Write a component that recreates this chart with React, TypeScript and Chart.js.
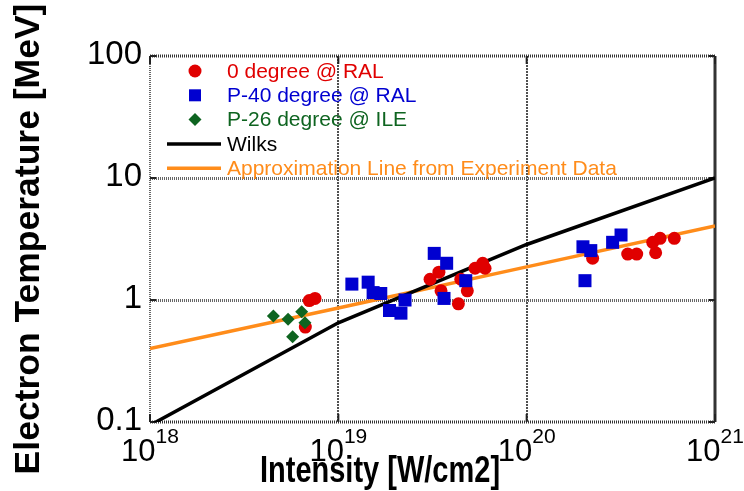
import React, { useEffect, useRef } from 'react';
import { Chart, registerables } from 'chart.js';

Chart.register(...registerables);

// ---- Data ----
const xTickExponents = [18, 19, 20, 21];
const yTickValues = [0.1, 1, 10, 100];
const yTickLabels = ['0.1', '1', '10', '100'];

const ral0Intensity = [7.01e18, 7.52e18, 6.68e18, 3.07e19, 3.42e19, 3.51e19, 4.34e19, 4.47e19, 4.84e19, 5.32e19, 5.84e19, 6.01e19, 2.24e20, 3.44e20, 3.84e20, 4.67e20, 5.11e20, 4.84e20, 6.08e20];
const ral0Temp = [0.99, 1.03, 0.6, 1.48, 1.69, 1.19, 0.93, 1.48, 1.19, 1.82, 2.0, 1.82, 2.2, 2.38, 2.38, 2.97, 3.2, 2.44, 3.2];

const ral40Intensity = [1.18e19, 1.44e19, 1.53e19, 1.68e19, 2.26e19, 1.87e19, 2.15e19, 3.23e19, 3.76e19, 3.64e19, 4.75e19, 1.99e20, 2.19e20, 2.04e20, 2.86e20, 3.17e20];
const ral40Temp = [1.35, 1.4, 1.15, 1.13, 1.0, 0.82, 0.78, 2.41, 2.0, 1.03, 1.44, 2.73, 2.54, 1.44, 2.97, 3.41];

const ile26Intensity = [4.52e18, 5.41e18, 6.39e18, 6.65e18, 5.72e18];
const ile26Temp = [0.74, 0.695, 0.8, 0.65, 0.5];

const wilksIntensity = [1e18, 1e19, 1e20, 1e21];
const wilksTemp = [0.094, 0.65, 2.85, 10];

const approxIntensity = [1e18, 1e19, 1e20, 1e21];
const approxTemp = [0.4, 0.86, 1.87, 4.04];

const seriesLabels = ['0 degree @ RAL', 'P-40 degree @ RAL', 'P-26 degree @ ILE', 'Wilks', 'Approximation Line from Experiment Data'];
const seriesColors = ['#e00000', '#0000d0', '#0e6420', '#000000', '#ff8c1a'];

const xTitle = 'Intensity [W/cm2]';
const yTitle = 'Electron Temperature [MeV]';

const FONT = "Arial, 'Liberation Sans', sans-serif";

const zip = (xs: number[], ys: number[]) => xs.map((x, i) => ({ x, y: ys[i] }));

const overlayPlugin = {
  id: 'overlay',
  beforeDatasetsDraw(chart: any) {
    const { ctx, chartArea: a, scales } = chart;
    const x = scales.x;
    const y = scales.y;
    ctx.save();
    // frame
    ctx.setLineDash([1, 1]);
    ctx.lineWidth = 2;
    ctx.strokeStyle = '#666';
    ctx.beginPath();
    ctx.moveTo(a.left, a.top);
    ctx.lineTo(a.left, a.bottom);
    ctx.stroke();
    ctx.lineWidth = 3;
    ctx.strokeStyle = '#333';
    ctx.beginPath();
    ctx.moveTo(a.left, a.top);
    ctx.lineTo(a.right, a.top);
    ctx.moveTo(a.left, a.bottom);
    ctx.lineTo(a.right, a.bottom);
    ctx.stroke();
    ctx.setLineDash([]);
    ctx.beginPath();
    ctx.moveTo(a.right, a.top);
    ctx.lineTo(a.right, a.bottom);
    ctx.stroke();
    // inward ticks
    ctx.lineWidth = 2;
    ctx.strokeStyle = '#222';
    ctx.beginPath();
    xTickExponents.forEach((e) => {
      const px = x.getPixelForValue(Math.pow(10, e));
      ctx.moveTo(px, a.top);
      ctx.lineTo(px, a.top + 8);
      ctx.moveTo(px, a.bottom);
      ctx.lineTo(px, a.bottom - 8);
    });
    yTickValues.forEach((v) => {
      const py = y.getPixelForValue(v);
      ctx.moveTo(a.left, py);
      ctx.lineTo(a.left + 6, py);
      ctx.moveTo(a.right, py);
      ctx.lineTo(a.right - 6, py);
    });
    ctx.stroke();
    ctx.restore();
  },
  afterDraw(chart: any) {
    const { ctx, chartArea: a, scales } = chart;
    const x = scales.x;
    const y = scales.y;
    ctx.save();
    ctx.fillStyle = '#000';
    // y tick labels
    ctx.font = `33px ${FONT}`;
    ctx.textAlign = 'right';
    ctx.textBaseline = 'alphabetic';
    yTickValues.forEach((v, i) => {
      ctx.fillText(yTickLabels[i], a.left - 8, y.getPixelForValue(v) + 8);
    });
    // x tick labels (10 with superscript exponent)
    xTickExponents.forEach((e) => {
      const px = x.getPixelForValue(Math.pow(10, e));
      ctx.font = `31px ${FONT}`;
      const bw = ctx.measureText('10').width;
      ctx.font = `21px ${FONT}`;
      const ew = ctx.measureText(String(e)).width;
      const start = px - (bw + ew) / 2;
      ctx.textAlign = 'left';
      ctx.font = `31px ${FONT}`;
      ctx.fillText('10', start, a.bottom + 39);
      ctx.font = `21px ${FONT}`;
      ctx.fillText(String(e), start + bw, a.bottom + 21);
    });
    // x title
    ctx.save();
    ctx.font = `bold 29px ${FONT}`;
    ctx.textAlign = 'center';
    ctx.translate(380, 482);
    ctx.scale(1, 1.25);
    ctx.fillText(xTitle, 0, 0);
    ctx.restore();
    // y title
    ctx.save();
    ctx.font = `bold 35.5px ${FONT}`;
    ctx.textAlign = 'center';
    ctx.textBaseline = 'middle';
    ctx.translate(29, (a.top + a.bottom) / 2);
    ctx.rotate(-Math.PI / 2);
    ctx.fillText(yTitle, 0, 0);
    ctx.restore();
    // legend
    const rowStart = a.top + 15;
    const rowStep = 24.3;
    chart.data.datasets.forEach((ds: any, i: number) => {
      const cy = rowStart + i * rowStep;
      const mx = a.left + 45;
      ctx.fillStyle = ds.borderColor;
      ctx.strokeStyle = ds.borderColor;
      if (ds.showLine) {
        ctx.lineWidth = 3.5;
        ctx.beginPath();
        ctx.moveTo(a.left + 17, cy);
        ctx.lineTo(a.left + 71, cy);
        ctx.stroke();
      } else if (ds.pointStyle === 'circle') {
        ctx.beginPath();
        ctx.arc(mx, cy, 6.5, 0, Math.PI * 2);
        ctx.fill();
      } else if (ds.pointStyle === 'rect') {
        ctx.fillRect(mx - 6, cy - 6, 12, 12);
      } else {
        ctx.beginPath();
        ctx.moveTo(mx, cy - 6.5);
        ctx.lineTo(mx + 6.5, cy);
        ctx.lineTo(mx, cy + 6.5);
        ctx.lineTo(mx - 6.5, cy);
        ctx.closePath();
        ctx.fill();
      }
      ctx.font = `21px ${FONT}`;
      ctx.textAlign = 'left';
      ctx.textBaseline = 'middle';
      ctx.fillText(ds.label, a.left + 77, cy + 1);
    });
    ctx.restore();
  },
};

export default function App() {
  const ref = useRef<HTMLCanvasElement>(null);
  useEffect(() => {
    document.body.style.margin = '0';
    const pointSet = (i: number, style: string, r: number, xs: number[], ys: number[], order: number) => ({
      label: seriesLabels[i],
      data: zip(xs, ys),
      pointStyle: style,
      pointRadius: r,
      backgroundColor: seriesColors[i],
      borderColor: seriesColors[i],
      borderWidth: 0,
      showLine: false,
      order,
    });
    const lineSet = (i: number, xs: number[], ys: number[], order: number) => ({
      label: seriesLabels[i],
      data: zip(xs, ys),
      borderColor: seriesColors[i],
      backgroundColor: seriesColors[i],
      borderWidth: 3.5,
      pointRadius: 0,
      showLine: true,
      fill: false,
      tension: 0,
      order,
    });
    const chart = new Chart(ref.current as HTMLCanvasElement, {
      type: 'scatter',
      data: {
        datasets: [
          pointSet(0, 'circle', 6.5, ral0Intensity, ral0Temp, 3),
          pointSet(1, 'rect', 9.2, ral40Intensity, ral40Temp, 2),
          pointSet(2, 'rectRot', 6.5, ile26Intensity, ile26Temp, 1),
          lineSet(3, wilksIntensity, wilksTemp, 4),
          lineSet(4, approxIntensity, approxTemp, 5),
        ] as any,
      },
      options: {
        responsive: false,
        animation: false,
        layout: { padding: { left: 150, top: 56, right: 29, bottom: 69 } },
        plugins: { legend: { display: false }, tooltip: { enabled: false } },
        scales: {
          x: {
            type: 'logarithmic',
            min: 1e18,
            max: 1e21,
            afterBuildTicks: (s: any) => {
              s.ticks = xTickExponents.map((e) => ({ value: Math.pow(10, e) }));
            },
            ticks: { display: false },
            border: { display: false, dash: [2, 1] },
            grid: {
              drawTicks: false,
              lineWidth: 2,
              color: (c: any) => (c.index === 0 || c.index === xTickExponents.length - 1 ? 'rgba(0,0,0,0)' : '#505050'),
            },
          },
          y: {
            type: 'logarithmic',
            min: 0.1,
            max: 100,
            afterBuildTicks: (s: any) => {
              s.ticks = yTickValues.map((v) => ({ value: v }));
            },
            ticks: { display: false },
            border: { display: false, dash: [1, 1] },
            grid: {
              drawTicks: false,
              lineWidth: 3,
              color: (c: any) => (c.index === 0 || c.index === yTickValues.length - 1 ? 'rgba(0,0,0,0)' : '#666'),
            },
          },
        },
      },
      plugins: [overlayPlugin],
    } as any);
    return () => chart.destroy();
  }, []);
  return (
    <div style={{ width: 744, height: 491 }}>
      <canvas ref={ref} width={744} height={491} style={{ display: 'block' }} />
    </div>
  );
}
